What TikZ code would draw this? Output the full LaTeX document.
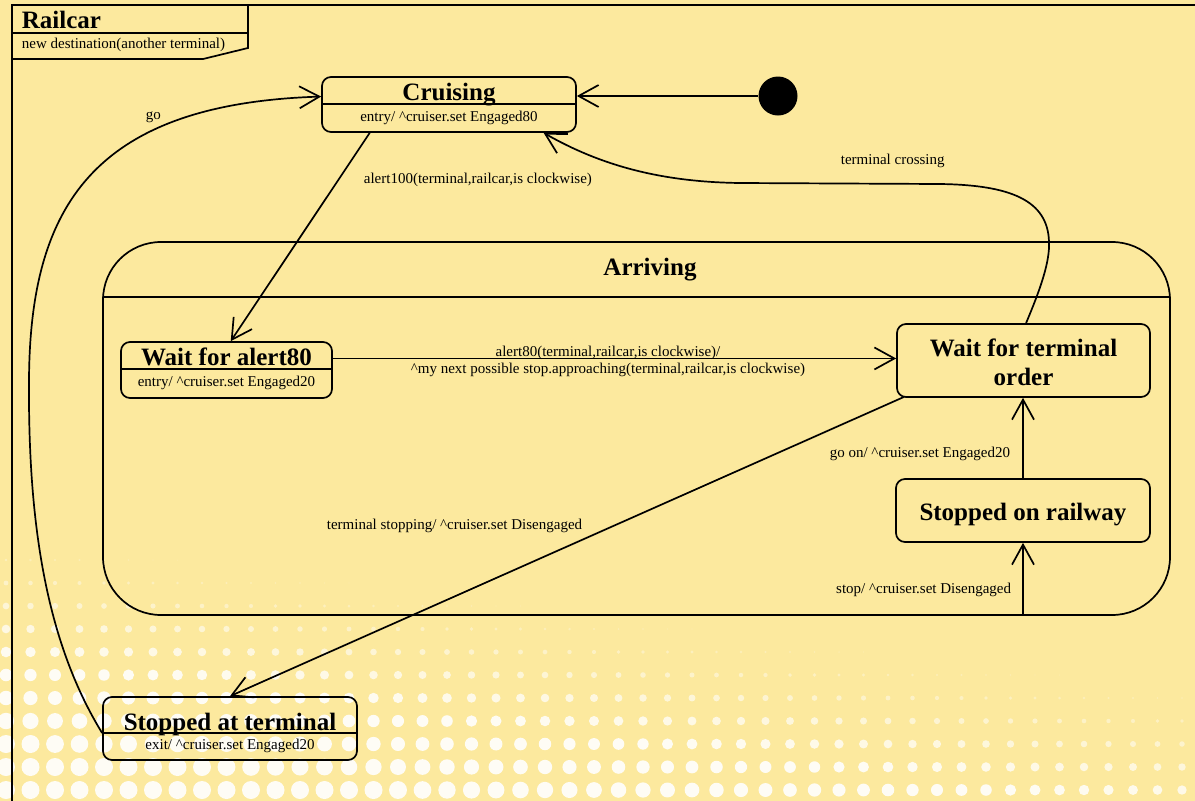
\documentclass[tikz,border=0pt]{standalone}
\usepackage{fontspec}
\setmainfont{Liberation Serif}
\usetikzlibrary{arrows.meta,calc}
\definecolor{bg}{RGB}{252,233,158}
\newcommand{\caret}{\textasciicircum}
\begin{document}
\begin{tikzpicture}[x=1pt,y=-1pt,line width=1.7pt,
  statebox/.style={draw,rounded corners=9pt,inner sep=0pt},
  title/.style={font=\fontsize{25}{29}\selectfont\bfseries,inner sep=0pt,anchor=base},
  small/.style={font=\fontsize{15}{18}\selectfont,inner sep=0pt,anchor=base},
  tr/.style={-{Straight Barb[length=20pt,width=22pt]}}]

% page and background
\useasboundingbox (0,0) rectangle (1195,801);
\fill[bg] (0,0) rectangle (1195,801);

% halftone dots in the lower left
\foreach \i in {0,...,49}{
  \foreach \j in {0,...,12}{
    \pgfmathsetmacro\px{6+24.5*\i}
    \pgfmathsetmacro\py{790-23*\j}
    \pgfmathsetmacro\r{min(9,max(0,0.042*(\py-525-0.13*\px)))}
    \ifdim\r pt>0.5pt
      \pgfmathsetmacro\op{min(0.9,0.1+\r/7)}
      \fill[white,opacity=\op] (\px,\py) circle[radius=\r pt];
    \fi
  }
}

% outer frame and name tab
\draw (12,801) -- (12,5) -- (1195,5);
\draw (12,59) -- (203,59) -- (248,48) -- (248,5);
\draw (12,33) -- (248,33);
\node[title,anchor=base west] (railcar) at (21,28) {Railcar};
\node[small,anchor=base west] (newdest) at (21,48) {new destination(another terminal)};

% Cruising
\node[statebox,minimum width=254pt,minimum height=55pt] (cru) at (449,104.5) {};
\draw (322,104) -- (577,104);
\node[title] (cruT) at (449,100) {Cruising};
\node[small] (cruB) at (449,121) {entry/ \caret cruiser.set Engaged80};

% initial state
\fill (778,96) circle[radius=19.5pt];
\node[circle,minimum size=39pt,inner sep=0pt] (init) at (778,96) {};

% Arriving composite
\node[draw,rounded corners=58pt,minimum width=1067pt,minimum height=373pt,inner sep=0pt] (arr) at (636.5,428.5) {};
\draw (103,297) -- (1170,297);
\node[title] (arrT) at (650,275) {Arriving};

% Wait for alert80
\node[statebox,minimum width=211pt,minimum height=56pt] (wfa) at (226.5,370) {};
\draw (121,369) -- (333,369);
\node[title] (wfaT) at (226.5,365) {Wait for alert80};
\node[small] (wfaB) at (226.5,386) {entry/ \caret cruiser.set Engaged20};

% Wait for terminal order
\node[statebox,minimum width=253pt,minimum height=73pt] (wto) at (1023.5,360.5) {};
\node[title] (wtoA) at (1023.5,356) {Wait for terminal};
\node[title] (wtoB) at (1023.5,385) {order};

% Stopped on railway
\node[statebox,minimum width=254pt,minimum height=63pt] (sor) at (1023,510.5) {};
\node[title] (sorT) at (1023,520) {Stopped on railway};

% Stopped at terminal
\node[statebox,minimum width=254pt,minimum height=63pt] (sat) at (230,728.5) {};
\draw (103,733) -- (358,733);
\node[title] (satT) at (230,730) {Stopped at terminal};
\node[small] (satB) at (230,749) {exit/ \caret cruiser.set Engaged20};

% transitions
\draw[tr] (init.west) -- (init.west -| cru.east);

\draw[tr] ($(cru.south west)!0.19!(cru.south east)$) -- ($(wfa.north west)!0.52!(wfa.north east)$);
\node[small,anchor=base west] (l100) at (363,183) {alert100(terminal,railcar,is clockwise)};

\coordinate (wfaOut) at ($(wfa.north east)!0.3!(wfa.south east)$);
\draw[tr] (wfaOut) -- (wfaOut -| wto.west);
\node[small] (l80a) at (608,356) {alert80(terminal,railcar,is clockwise)/};
\node[small] (l80b) at (608,373) {\caret my next possible stop.approaching(terminal,railcar,is clockwise)};

\draw[tr] (sor.north) -- (sor.north |- wto.south);
\node[small,anchor=base east] (lgoon) at (1011,457) {go on/ \caret cruiser.set Engaged20};

\draw[tr] (sor.south |- arr.south) -- (sor.south);
\node[small,anchor=base east] (lstop) at (1012,593) {stop/ \caret cruiser.set Disengaged};

\draw[tr] ([xshift=8pt,yshift=1pt]wto.south west) -- (sat.north);
\node[small,anchor=base west] (lstopping) at (326,529) {terminal stopping/ \caret cruiser.set Disengaged};

\draw[tr] ($(wto.north west)!0.51!(wto.north east)$)
  .. controls (1040,290) and (1050,262) .. (1049,242)
  .. controls (1048,200) and (1010,185) .. (940,184)
  -- (740,183)
  .. controls (660,182) and (600,165) .. ($(cru.south west)!0.87!(cru.south east)$);
\node[small,anchor=base west] (lcross) at (840,164) {terminal crossing};

\draw[tr] ($(sat.north west)!0.57!(sat.south west)$)
  .. controls (45,640) and (28,520) .. (29,380)
  .. controls (30,210) and (90,104) .. ($(cru.north west)!0.36!(cru.south west)$);
\node[small,anchor=base west] (lgo) at (145,119) {go};

\end{tikzpicture}
\end{document}
